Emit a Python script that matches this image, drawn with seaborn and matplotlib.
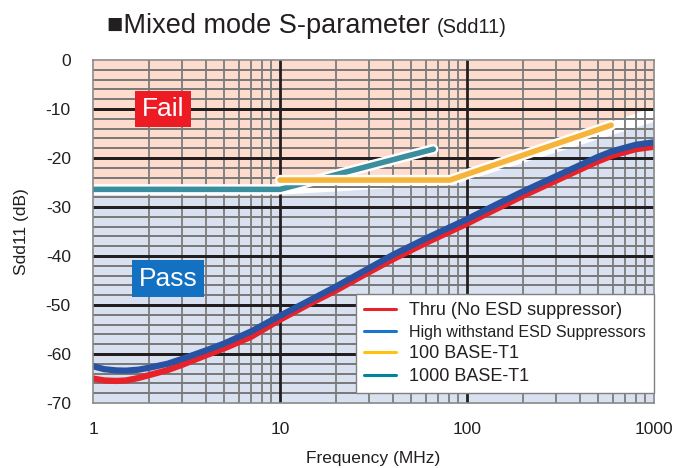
import numpy as np
import pandas as pd
import matplotlib
matplotlib.use("Agg")
import matplotlib.pyplot as plt
import matplotlib.patheffects as pe
from matplotlib.lines import Line2D
from matplotlib.ticker import FixedLocator, NullFormatter
import seaborn as sns

# ---------------- data ----------------
freq = [1, 1.15, 1.33, 1.5, 1.75, 2, 2.5, 3, 4, 5, 7, 10, 14, 20, 28, 40,
        62, 100, 140, 200, 300, 400, 500, 600, 800, 1000]
thru = [-65.0, -65.4, -65.5, -65.4, -64.9, -64.3, -63.3, -62.2, -60.3, -58.9,
        -56.5, -53.0, -50.0, -47.0, -43.9, -40.7, -37.1, -33.4, -30.6, -27.7,
        -24.6, -22.4, -20.7, -19.5, -18.2, -17.7]
esd = [-62.5, -63.1, -63.35, -63.4, -63.2, -62.8, -62.0, -61.0, -59.3, -57.9,
       -55.4, -52.2, -49.3, -46.2, -43.1, -39.8, -36.2, -32.5, -29.7, -26.8,
       -23.7, -21.5, -19.8, -18.6, -17.3, -16.8]

base100_f = [10, 81, 590]
base100_v = [-24.5, -24.5, -13.3]
base1000_f = [1, 10, 66]
base1000_v = [-26.4, -26.4, -18.2]

fail_edge_f = [1, 10, 10, 81, 590, 1000]
fail_edge_v = [-25.6, -25.6, -23.7, -23.7, -12.5, -9.5]
pass_edge_f = [1, 10, 85, 1000]
pass_edge_v = [-27.4, -27.4, -25.3, -12.5]

labels = ["Thru (No ESD suppressor)", "High withstand ESD Suppressors",
          "100 BASE-T1", "1000 BASE-T1"]
x_ticks = [1, 10, 100, 1000]
x_tick_labels = ["1", "10", "100", "1000"]
y_ticks = [0, -10, -20, -30, -40, -50, -60, -70]

# ---------------- style ----------------
sns.set_theme(style="white")
plt.rcParams['font.family'] = ['Liberation Sans', 'DejaVu Sans']

fig = plt.figure(figsize=(6.74, 4.68), dpi=100)
ax = fig.add_axes([93/674, 1 - 403/468, (654-93)/674, (403-60)/468])
ax.set_xscale('log')
ax.set_xlim(1, 1000)
ax.set_ylim(-70, 0)

# background regions
ax.fill_between(fail_edge_f, fail_edge_v, 0, color='#FDDCCD', lw=0, zorder=0)
ax.fill_between(pass_edge_f, pass_edge_v, -70, color='#D9E0EF', lw=0, zorder=0)

# grid
minor_x = [m * 10**d for d in range(0, 3) for m in range(2, 10)]
for xv in minor_x:
    ax.axvline(xv, color='#858585', lw=1.44, zorder=1, snap=True)
for yv in range(-68, 0, 2):
    if yv % 10 == 0:
        ax.axhline(yv, color='#231F20', lw=2.16, zorder=1.5, snap=True)
    else:
        ax.axhline(yv, color='#7a7a7a', lw=1.44, zorder=1, snap=True)
for xv in [10, 100]:
    ax.axvline(xv, color='#231F20', lw=2.0, zorder=1.5, snap=True)

halo = [pe.Stroke(linewidth=7.5, foreground='white'), pe.Normal()]
sns.lineplot(x=base1000_f, y=base1000_v, ax=ax, color='#3A8E9E', lw=4,
             solid_capstyle='round', zorder=3, path_effects=halo)
sns.lineplot(x=base100_f, y=base100_v, ax=ax, color='#F6B53A', lw=4,
             solid_capstyle='round', zorder=3, path_effects=halo)
sns.lineplot(x=freq, y=thru, ax=ax, color='#E8222B', lw=4.5,
             solid_capstyle='round', solid_joinstyle='round', zorder=4)
sns.lineplot(x=freq, y=esd, ax=ax, color='#2853A3', lw=4.5,
             solid_capstyle='round', solid_joinstyle='round', zorder=5)

# ticks
ax.xaxis.set_major_locator(FixedLocator(x_ticks))
ax.xaxis.set_minor_formatter(NullFormatter())
ax.set_xticks(x_ticks)
ax.set_xticklabels(x_tick_labels)
ax.set_yticks(y_ticks)
ax.set_yticklabels([str(v) for v in y_ticks])
ax.tick_params(axis='both', which='both', length=0, labelsize=12.5,
               colors='#231F20')
ax.tick_params(axis='x', pad=14)
ax.tick_params(axis='y', pad=16)
ax.set_xlabel("Frequency (MHz)", fontsize=12.5, color='#231F20', labelpad=10)
ax.set_ylabel("Sdd11 (dB)", fontsize=12.5, color='#231F20', labelpad=12)

for s in ax.spines.values():
    s.set_color('#8a8a8a')
    s.set_linewidth(1.2)
    s.set_zorder(6)

# Fail / Pass labels
ax.text(2.37, -10, "Fail", color='white', fontsize=19, ha='center',
        va='center', zorder=7,
        bbox=dict(boxstyle='square,pad=0.24', fc='#ED1C24', ec='none'))
ax.text(2.52, -44.6, "Pass", color='white', fontsize=19, ha='center',
        va='center', zorder=7,
        bbox=dict(boxstyle='square,pad=0.24', fc='#1471C1', ec='none'))

# legend
handles = [Line2D([], [], color=c, lw=2.2) for c in
           ['#E8222B', '#1C74CC', '#FFC20E', '#00849A']]
leg = ax.legend(handles, labels, loc='lower right',
                bbox_to_anchor=(1.0, 10/343), borderaxespad=0,
                fontsize=13, frameon=True, fancybox=False, framealpha=1,
                edgecolor='#808080', handlelength=1.8, handletextpad=0.7,
                labelspacing=0.3, borderpad=0.45)
leg.get_frame().set_linewidth(1.0)
leg.set_zorder(8)
leg.get_texts()[1].set_fontsize(11.5)
for t in leg.get_texts():
    t.set_color('#231F20')

# title
t1 = fig.text(107/674, 1 - 33/468, "■Mixed mode S-parameter", fontsize=19.5,
              color='#231F20', va='baseline', ha='left',
              family=['Liberation Sans', 'DejaVu Sans'])
fig.canvas.draw()
bb = t1.get_window_extent()
fig.text((bb.x1 + 7) / fig.bbox.width, 1 - 33/468, "(Sdd11)", fontsize=14.5,
         color='#231F20', va='baseline', ha='left')

fig.savefig("out.png", dpi=100)
